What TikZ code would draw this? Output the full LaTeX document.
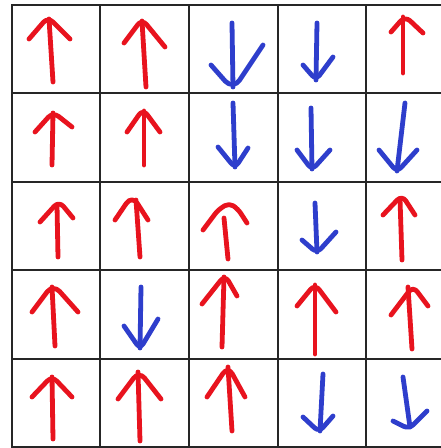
\documentclass[tikz,border=0pt]{standalone}
\definecolor{pred}{HTML}{E8131E}
\definecolor{pblue}{HTML}{2E3ECC}
\tikzset{
  gridline/.style={draw=black!85, line width=1.6pt},
  redpen/.style={draw=pred, line width=4.8pt, line cap=round, line join=round},
  bluepen/.style={draw=pblue, line width=4.8pt, line cap=round, line join=round},
  headr/.style={redpen, rounded corners=7pt},
  headb/.style={bluepen, rounded corners=6pt},
}
\begin{document}
\begin{tikzpicture}[x=1pt,y=-1pt]
\useasboundingbox (0,0) rectangle (441,448);
\fill[white] (0,0) rectangle (441,448);
% grid
\foreach \x in {12,100,189,278,366} \draw[gridline] (\x,5) -- (\x,447);
\foreach \y in {5,93,182,270,359,447} \draw[gridline] (11.2,\y) -- (446,\y);
% row 1
\draw[redpen] (53,82) -- (49,19); \draw[headr] (29,39) -- (48,17) -- (70,39);
\draw[redpen] (146,87) -- (142,21); \draw[headr] (124,43) -- (142,19) -- (165,47);
\draw[bluepen] (232,23) -- (233,87); \draw[headb, rounded corners=12pt] (211,65) -- (233,90) -- (263,45);
\draw[bluepen] (317,23) -- (316,80); \draw[headb] (303,65) -- (316,80) -- (333,57);
\draw[redpen] (403,73) -- (403,17); \draw[headr] (391,32) -- (405,16) -- (423,33);
% row 2
\draw[redpen] (52,165) -- (53,113); \draw[headr] (35,132) -- (53,112) -- (72,127);
\draw[redpen] (144,165) -- (144,111); \draw[headr] (127,132) -- (143,109) -- (160,132);
\draw[bluepen] (233,103) -- (235,167); \draw[headb] (218,147) -- (235,168) -- (248,148);
\draw[bluepen] (311,108) -- (312,169); \draw[headb] (297,150) -- (312,170) -- (330,150);
\draw[bluepen] (405,103) -- (397,171); \draw[headb] (379,150) -- (397,172) -- (417,150);
% row 3
\draw[redpen] (58,257) -- (57,205); \draw[headr] (40,222) -- (59,201) -- (73,218);
\draw[redpen] (140,257) -- (136,200); \draw[headr, rounded corners=10pt] (115,220) -- (132,195) -- (148,220);
\draw[redpen] (228,259) -- (224,218); \draw[headr, rounded corners=5pt] (203,230) -- (218,210) -- (229,203) -- (238,209) -- (247,223);
\draw[bluepen] (315,203) -- (317,252); \draw[headb] (302,240) -- (317,253) -- (336,232);
\draw[redpen] (402,260) -- (400,199); \draw[headr] (383,215) -- (402,195) -- (415,215);
% row 4
\draw[redpen] (55,346) -- (52,287); \draw[headr, rounded corners=10pt] (32,312) -- (53,284) -- (78,312);
\draw[bluepen] (141,287) -- (140,348); \draw[headb] (124,326) -- (140,349) -- (158,319);
\draw[redpen] (222,347) -- (224,277); \draw[headr] (202,304) -- (225,275) -- (237,296);
\draw[redpen] (315,354) -- (315,285); \draw[headr] (297,306) -- (315,284) -- (336,312);
\draw[redpen] (412,349) -- (408,287); \draw[headr] (391,315) -- (413,286) -- (428,306);
% row 5
\draw[redpen] (53,439) -- (52,377); \draw[headr] (32,397) -- (52,376) -- (72,397);
\draw[redpen] (140,441) -- (138,372); \draw[headr, rounded corners=9pt] (118,399) -- (139,371) -- (161,399);
\draw[redpen] (232,431) -- (228,367); \draw[headr, rounded corners=9pt] (207,397) -- (228,366) -- (245,397);
\draw[bluepen] (323,374) -- (320,431); \draw[headb] (303,417) -- (319,432) -- (333,416);
\draw[bluepen] (403,377) -- (410,427); \draw[headb] (393,421) -- (409,429) -- (427,411);
\end{tikzpicture}
\end{document}
